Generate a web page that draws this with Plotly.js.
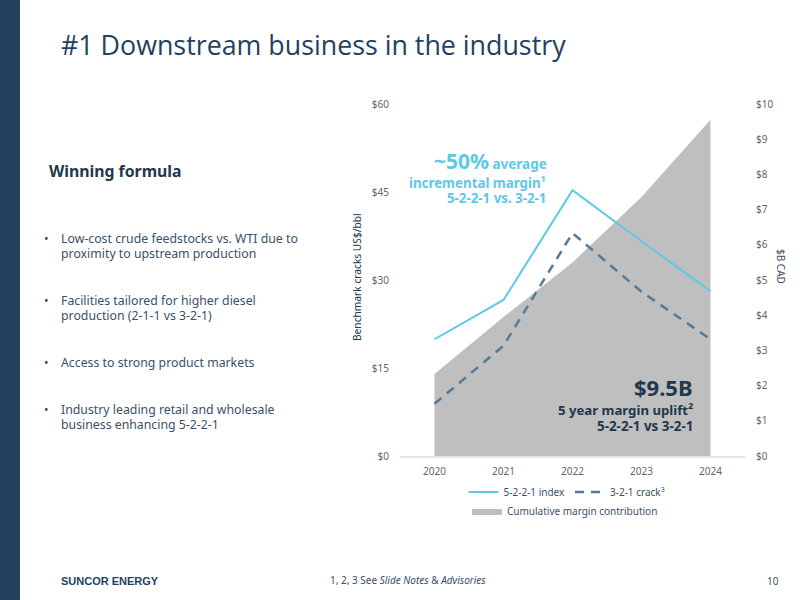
<!DOCTYPE html>
<html><head><meta charset="utf-8">
<script src="https://cdn.plot.ly/plotly-3.0.1.min.js"></script>
<style>html,body{margin:0;padding:0;background:#fff}#c{width:800px;height:600px}</style>
</head><body><div id="c"></div>
<script>
const years = ['2020','2021','2022','2023','2024'];
const index5221 = [19.9, 26.6, 45.3, 36.6, 28.1];
const crack321 = [8.9, 18.8, 38.0, 28.0, 19.9];
const cumulativeMargin = [2.33, 3.95, 5.5, 7.36, 9.55];
const leftTicks = [0, 15, 30, 45, 60];
const rightTicks = [0,1,2,3,4,5,6,7,8,9,10];

const NAVY='#23415F', TEXT='#3A5068', AXIS='#5F666E', CYAN='#5CC9E6', DASH='#567A96', DARK='#22384C';
const FONT='"Noto Sans", "Open Sans", sans-serif';
const L=400,R=745,T=104,B=456;
const px=x=>(x-L)/(R-L), py=y=>(B-y)/(B-T);
const note=(x,y,text,size,color,anchor,family)=>{
  const a=anchor||'left';
  return {xref:'paper',yref:'paper',x:px(x+(a==='right'?2:-2)),y:py(y),text,showarrow:false,
    xanchor:a,yanchor:'middle',align:a,font:{size,color,family:family||FONT}};
};

const traces=[
 {x:years,y:cumulativeMargin,name:'Cumulative margin contribution',type:'scatter',mode:'lines',yaxis:'y',
  fill:'tozeroy',fillcolor:'#BFBFBF',line:{width:0,color:'#BFBFBF'},legend:'legend2',hoverinfo:'skip'},
 {x:years,y:index5221,name:'5-2-2-1 index',type:'scatter',mode:'lines',yaxis:'y2',line:{color:CYAN,width:2}},
 {x:years,y:crack321,name:'3-2-1 crack<sup>3</sup>',type:'scatter',mode:'lines',yaxis:'y2',line:{color:DASH,width:2.5,dash:'9px,7px'}}
];
const money=a=>a.map(v=>'$'+v);
const layout={
 width:800,height:600,paper_bgcolor:'#fff',plot_bgcolor:'#fff',
 margin:{l:L,r:800-R,t:T,b:600-B,pad:0},
 font:{family:FONT,color:AXIS,size:10},
 xaxis:{type:'category',range:[-0.5,4.5],showgrid:false,zeroline:false,showline:true,linecolor:'#E4E4E4',linewidth:2,
   ticks:'',tickfont:{size:10,color:AXIS},ticklabelstandoff:5},
 yaxis:{side:'right',range:[0,10],tickvals:rightTicks,ticktext:money(rightTicks),showgrid:false,zeroline:false,showline:false,
   ticks:'',tickfont:{size:10,color:AXIS},ticklabelstandoff:10},
 yaxis2:{overlaying:'y',side:'left',range:[0,60],tickvals:leftTicks,ticktext:money(leftTicks),showgrid:false,zeroline:false,showline:false,
   ticks:'',tickfont:{size:10,color:AXIS},ticklabelstandoff:10},
 legend:{orientation:'h',x:px(567),xanchor:'center',y:py(492),yanchor:'middle',font:{size:10,color:TEXT},bgcolor:'rgba(0,0,0,0)',itemwidth:30},
 legend2:{orientation:'h',x:px(565),xanchor:'center',y:py(511),yanchor:'middle',font:{size:10,color:TEXT},bgcolor:'rgba(0,0,0,0)',itemwidth:30},
 shapes:[{type:'rect',xref:'paper',yref:'paper',x0:px(0),x1:px(20),y0:py(600),y1:py(0),fillcolor:NAVY,line:{width:0},layer:'below'}],
 annotations:[
  note(61,44,'#1 Downstream business in the industry',26.8,NAVY,'left','"Open Sans", sans-serif'),
  note(49,171,'<b>Winning formula</b>',15.8,DARK),
  note(44,238,'•',12,TEXT),
  note(61,238,'Low-cost crude feedstocks vs. WTI due to',12.3,TEXT),
  note(61,253,'proximity to upstream production',12.3,TEXT),
  note(44,300,'•',12,TEXT),
  note(61,300,'Facilities tailored for higher diesel',12.3,TEXT),
  note(61,315,'production (2-1-1 vs 3-2-1)',12.3,TEXT),
  note(44,362,'•',12,TEXT),
  note(61,362,'Access to strong product markets',12.3,TEXT),
  note(44,409,'•',12,TEXT),
  note(61,409,'Industry leading retail and wholesale',12.3,TEXT),
  note(61,424,'business enhancing 5-2-2-1',12.3,TEXT),
  note(547,161,'<b><span style="font-size:21px">~50%</span> average</b>',13.5,CYAN,'right'),
  note(546,182,'<b>incremental margin<sup>1</sup></b>',13.3,CYAN,'right'),
  note(546,198,'<b>5-2-2-1 vs. 3-2-1</b>',13.3,CYAN,'right'),
  note(693,387,'<b>$9.5B</b>',22,DARK,'right'),
  note(693,409,'<b>5 year margin uplift<sup>2</sup></b>',13.2,DARK,'right'),
  note(693,426,'<b>5-2-2-1 vs 3-2-1</b>',13.4,DARK,'right'),
  note(61,581,'<b>SUNCOR ENERGY</b>',11,NAVY,'left','"Liberation Sans", sans-serif'),
  note(330,580,'1, 2, 3 See <i>Slide Notes</i> &amp; <i>Advisories</i>',10,TEXT),
  note(779,581,'10',10,TEXT,'right'),
  Object.assign(note(357,277,'Benchmark cracks US$/bbl',10.2,DARK,'left'),{x:px(357),xanchor:'center',textangle:-90}),
  Object.assign(note(781,266,'$B CAD',10,TEXT,'left'),{x:px(781),xanchor:'center',textangle:90})
 ]
};
Plotly.newPlot('c',traces,layout,{displayModeBar:false,staticPlot:true});
</script></body></html>
